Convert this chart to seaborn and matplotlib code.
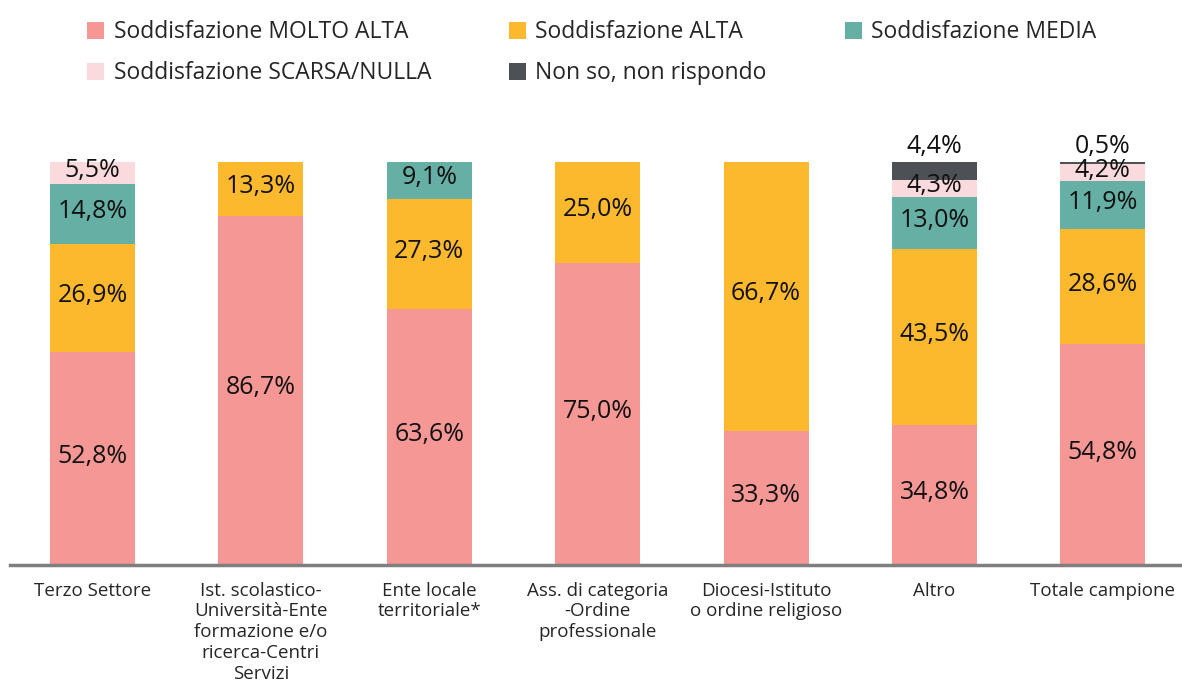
import matplotlib
matplotlib.use("Agg")
import matplotlib.pyplot as plt
import seaborn as sns
import numpy as np
import pandas as pd
from matplotlib.patches import Patch

categories = ["Terzo Settore",
              "Ist. scolastico-\nUniversità-Ente\nformazione e/o\nricerca-Centri\nServizi",
              "Ente locale\nterritoriale*",
              "Ass. di categoria\n-Ordine\nprofessionale",
              "Diocesi-Istituto\no ordine religioso",
              "Altro",
              "Totale campione"]
series_names = ["Soddisfazione MOLTO ALTA", "Soddisfazione ALTA", "Soddisfazione MEDIA",
                "Soddisfazione SCARSA/NULLA", "Non so, non rispondo"]
molto_alta = [52.8, 86.7, 63.6, 75.0, 33.3, 34.8, 54.8]
alta = [26.9, 13.3, 27.3, 25.0, 66.7, 43.5, 28.6]
media = [14.8, 0, 9.1, 0, 0, 13.0, 11.9]
scarsa = [5.5, 0, 0, 0, 0, 4.3, 4.2]
non_so = [0, 0, 0, 0, 0, 4.4, 0.5]
colors = ["#F49795", "#FDB92E", "#66AFA5", "#FADADD", "#4D5155"]

sns.set_theme(style="white")
plt.rcParams['font.family'] = ["Open Sans", "DejaVu Sans"]

fig = plt.figure(figsize=(11.82, 6.88), dpi=100)
ax = fig.add_axes([10/1182, 1-565/688, 1-10/1182, (565-162)/688])

series = [molto_alta, alta, media, scarsa, non_so]
cum = np.cumsum(np.array(series), axis=0)
x_idx = list(range(len(categories)))
for i in range(len(series) - 1, -1, -1):
    df = pd.DataFrame({"cat": x_idx, "val": cum[i]})
    sns.barplot(data=df, x="cat", y="val", color=colors[i], width=0.505,
                saturation=1, ax=ax, order=x_idx, linewidth=0)

for j in range(len(categories)):
    bottom = 0
    for i, s in enumerate(series):
        v = s[j]
        if v > 0:
            lab = f"{v:.1f}%".replace(".", ",")
            if i == 4:
                ax.text(j, 100 + 0.8, lab, ha="center", va="bottom", fontsize=18,
                        color="#111111", clip_on=False)
            else:
                ax.text(j, bottom + v / 2 + 0.6, lab, ha="center", va="center", fontsize=18,
                        color="#111111")
        bottom += v

ax.set_xlim(-0.49, 6.47)
ax.set_ylim(0, 100)
ax.set_xticks(x_idx)
ax.set_xticklabels(categories, fontsize=13.5, va="top", linespacing=1.2)
ax.tick_params(axis="x", length=0, pad=12)
ax.set_yticks([])
ax.set_xlabel("")
ax.set_ylabel("")
for s in ["top", "right", "left"]:
    ax.spines[s].set_visible(False)
ax.spines["bottom"].set_color("#7F7F7F")
ax.spines["bottom"].set_linewidth(2.5)

handles = [Patch(facecolor=c, edgecolor="none") for c in colors]
order = [0, 3, 1, 4, 2]
leg = fig.legend([handles[k] for k in order], [series_names[k] for k in order],
                 ncol=3, loc="upper left", bbox_to_anchor=(78/1182, 1 - 11/688),
                 frameon=False, prop={"size": 16.5},
                 handlelength=0.75, handleheight=0.75, handletextpad=0.4,
                 columnspacing=3.4, labelspacing=0.75, borderaxespad=0)

fig.savefig("out.png", dpi=100)
